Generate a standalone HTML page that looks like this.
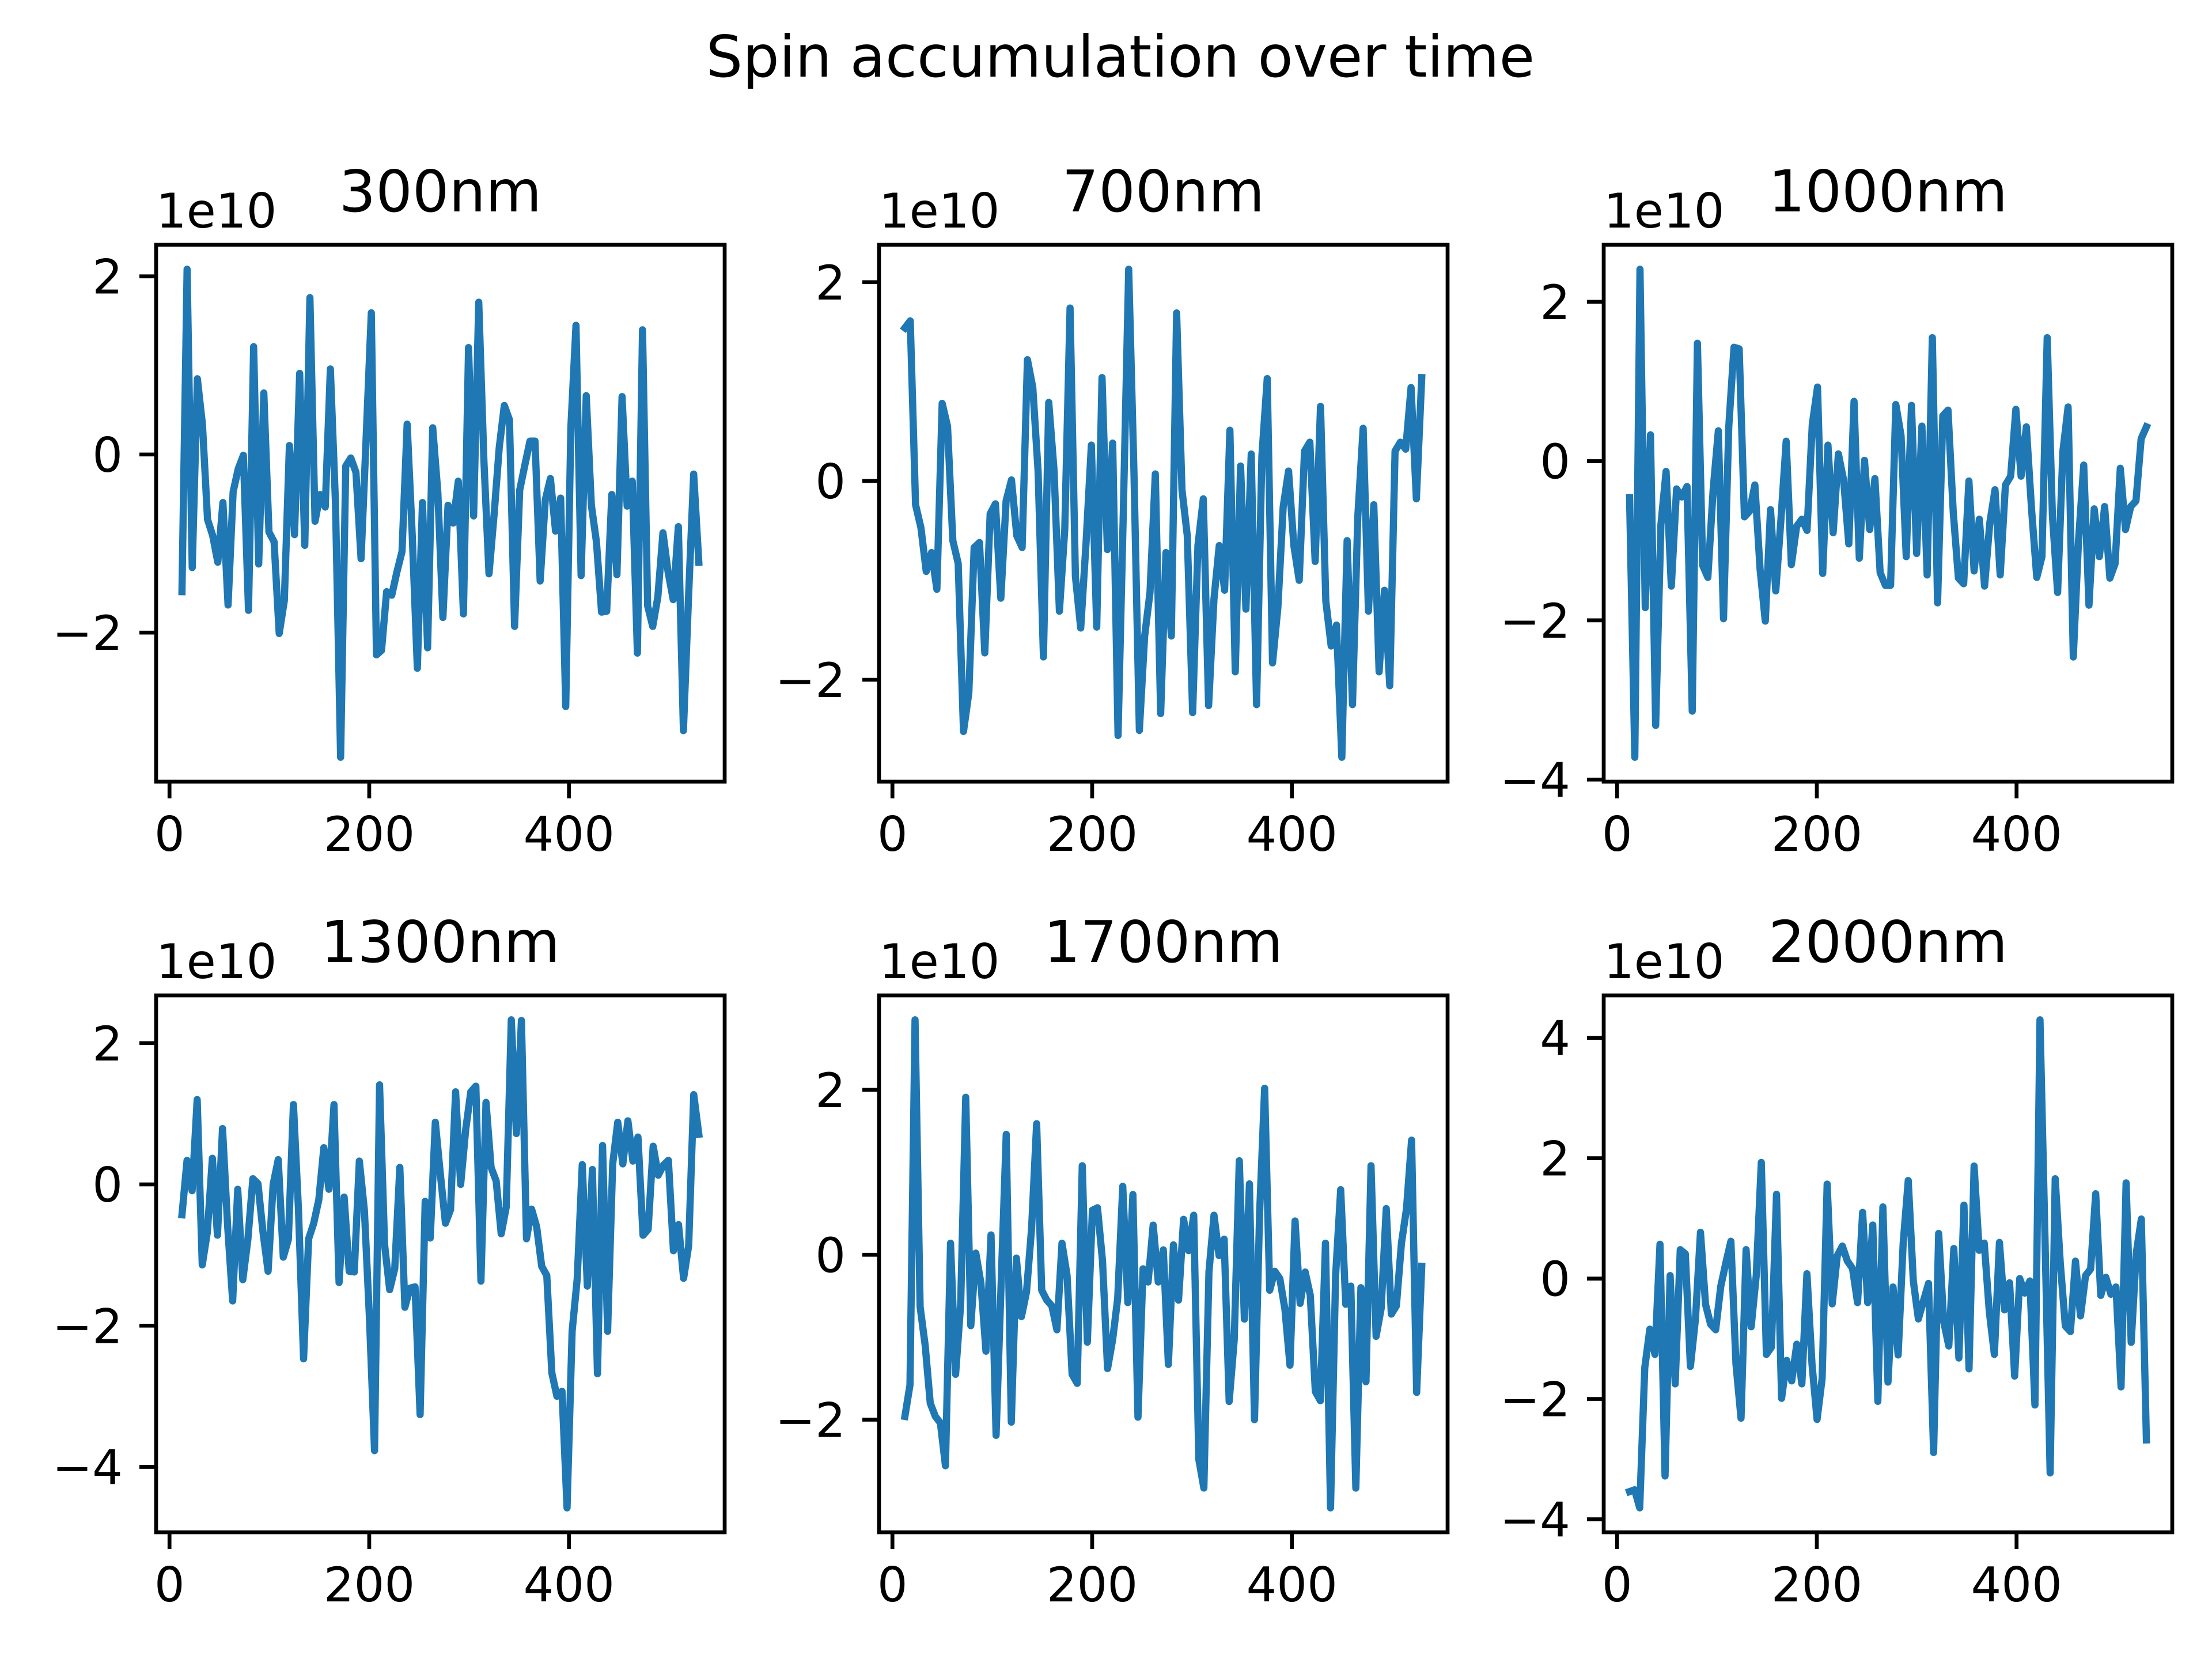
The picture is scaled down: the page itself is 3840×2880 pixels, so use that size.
<!DOCTYPE html>
<html><head><meta charset="utf-8"><title>Spin accumulation over time</title>
<style>html,body{margin:0;padding:0;background:#fff}svg{display:block}</style></head>
<body>
<svg id="fig" xmlns="http://www.w3.org/2000/svg" width="3840" height="2880" viewBox="0 0 3840 2880" font-family="DejaVu Sans, Liberation Sans, sans-serif">
<rect width="3840" height="2880" fill="#fff"/>
<text x="1945" y="133" font-size="100" text-anchor="middle">Spin accumulation over time</text>
</svg>
<script>
const panelTitles = ["300nm","700nm","1000nm","1300nm","1700nm","2000nm"];
const xTickValues = [0,200,400];
const xStart = 12.5, xEnd = 530;
const s300 = [-1.54,2.08,-1.27,0.85,0.34,-0.73,-0.91,-1.21,-0.54,-1.69,-0.42,-0.16,-0.01,-1.75,1.21,-1.23,0.69,-0.87,-0.98,-2.01,-1.64,0.10,-0.90,0.91,-1.02,1.76,-0.75,-0.45,-0.59,0.96,-0.55,-3.40,-0.13,-0.04,-0.20,-1.17,0.2,1.59,-2.25,-2.20,-1.54,-1.58,-1.32,-1.09,0.34,-0.9,-2.40,-0.54,-2.17,0.30,-0.43,-1.83,-0.57,-0.77,-0.30,-1.79,1.20,-0.69,1.71,-0.06,-1.34,-0.67,0.08,0.55,0.39,-1.93,-0.40,-0.12,0.15,0.15,-1.42,-0.51,-0.27,-0.86,-0.49,-2.83,0.30,1.45,-1.36,0.66,-0.57,-0.98,-1.77,-1.76,-0.45,-1.35,0.65,-0.58,-0.30,-2.23,1.40,-1.70,-1.93,-1.60,-0.88,-1.32,-1.63,-0.81,-3.10,-1.6,-0.22,-1.21];
const s700 = [1.54,1.61,-0.24,-0.47,-0.91,-0.72,-1.09,0.78,0.55,-0.60,-0.83,-2.52,-2.13,-0.67,-0.62,-1.73,-0.33,-0.23,-1.18,-0.20,0.01,-0.55,-0.67,1.22,0.94,0.10,-1.77,0.79,0.10,-1.31,-0.49,1.74,-0.96,-1.48,-0.62,0.36,-1.47,1.04,-0.69,0.38,-2.56,-0.3,2.13,0.07,-2.51,-1.56,-1.12,0.07,-2.34,-0.72,-1.56,1.69,-0.09,-0.55,-2.33,-0.65,-0.18,-2.26,-1.19,-0.65,-1.10,0.51,-1.92,0.15,-1.29,0.27,-2.25,0.25,1.03,-1.83,-1.27,-0.26,0.10,-0.65,-1.00,0.30,0.39,-0.81,0.75,-1.21,-1.66,-1.45,-2.78,-0.60,-2.25,-0.36,0.53,-1.31,-0.24,-1.92,-1.10,-2.06,0.30,0.39,0.32,0.94,-0.18,1.04];
const s1000 = [-0.46,-3.72,2.41,-1.84,0.33,-3.32,-0.80,-0.13,-1.57,-0.35,-0.45,-0.32,-3.14,1.48,-1.31,-1.46,-0.37,0.38,-1.98,0.43,1.43,1.41,-0.70,-0.63,-0.30,-1.36,-2.01,-0.61,-1.63,-0.73,0.25,-1.30,-0.82,-0.73,-0.87,0.46,0.93,-1.41,0.20,-0.90,0.09,-0.24,-1.04,0.75,-1.22,0.01,-0.86,-0.22,-1.40,-1.56,-1.56,0.71,0.32,-1.20,0.70,-1.16,0.44,-1.43,1.55,-1.78,0.57,0.64,-0.64,-1.47,-1.54,-0.25,-1.38,-0.73,-1.57,-0.78,-0.36,-1.43,-0.30,-0.19,0.65,-0.19,0.43,-0.60,-1.46,-1.20,1.55,-0.69,-1.65,0.12,0.68,-2.46,-1.0,-0.05,-1.81,-0.60,-1.20,-0.57,-1.47,-1.29,-0.09,-0.86,-0.57,-0.50,0.28,0.43];
const s1300 = [-0.43,0.34,-0.09,1.20,-1.14,-0.68,0.37,-0.72,0.79,-0.58,-1.65,-0.07,-1.35,-0.78,0.08,0.01,-0.68,-1.23,0.00,0.35,-1.03,-0.78,1.13,-0.37,-2.47,-0.77,-0.55,-0.22,0.52,-0.07,1.13,-1.39,-0.18,-1.23,-1.24,0.33,-0.37,-1.90,-3.77,1.41,-0.86,-1.49,-1.19,0.24,-1.74,-1.47,-1.45,-3.26,-0.24,-0.76,0.88,0.14,-0.55,-0.36,1.31,0.00,0.78,1.31,1.39,-1.37,1.16,0.24,0.05,-0.70,-0.32,2.33,0.72,2.32,-0.77,-0.35,-0.60,-1.16,-1.29,-2.67,-3.00,-2.93,-4.58,-2.08,-1.34,0.28,-1.44,0.21,-2.68,0.55,-2.08,0.29,0.88,0.29,0.90,0.33,0.67,-0.72,-0.64,0.54,0.13,0.27,0.34,-0.94,-0.57,-1.33,-0.87,1.27,0.71];
const s1700 = [-1.96,-1.58,2.85,-0.63,-1.10,-1.80,-1.96,-2.04,-2.56,0.14,-1.45,-0.60,1.91,-0.86,0.02,-0.34,-1.17,0.24,-2.19,-0.34,1.46,-2.03,-0.04,-0.75,-0.45,0.32,1.59,-0.43,-0.55,-0.62,-0.91,0.14,-0.25,-1.45,-1.56,1.08,-1.06,0.54,0.57,-0.07,-1.38,-1.03,-0.53,0.83,-0.58,0.73,-1.97,-0.17,-0.33,0.36,-0.33,0.06,-1.33,0.12,-0.55,0.43,0.05,0.48,-2.48,-2.83,-0.21,0.48,-0.01,0.19,-1.78,-1.03,1.14,-0.78,0.86,-2.00,0.49,2.02,-0.43,-0.20,-0.29,-0.66,-1.34,0.41,-0.59,-0.21,-0.49,-1.66,-1.77,0.14,-3.07,-0.25,0.79,-0.60,-0.38,-2.83,-0.40,-1.54,1.08,-0.99,-0.65,0.56,-0.72,-0.62,0.14,0.56,1.39,-1.67,-0.14];
const s2000 = [-3.54,-3.51,-3.81,-1.48,-0.84,-1.26,0.57,-3.28,0.05,-1.75,0.48,0.41,-1.46,-0.67,0.77,-0.43,-0.76,-0.85,-0.13,0.26,0.62,-1.42,-2.32,0.48,-0.80,0.05,1.93,-1.26,-1.14,1.40,-1.99,-1.36,-1.70,-1.09,-1.75,0.08,-1.42,-2.34,-1.66,1.57,-0.42,0.38,0.54,0.29,0.17,-0.40,1.10,-0.40,0.89,-2.04,1.19,-1.72,-0.14,-1.27,0.59,1.63,-0.04,-0.67,-0.37,-0.08,-2.89,0.75,-0.72,-1.12,0.50,-1.32,1.22,-1.50,1.87,0.47,0.59,-0.55,-1.26,0.60,-0.52,-0.07,-1.62,0.00,-0.24,-0.04,-2.10,4.30,0.62,-3.23,1.66,0.26,-0.79,-0.88,0.29,-0.62,0.05,0.16,1.41,-0.28,0.02,-0.26,-0.14,-1.80,1.59,-1.06,0.42,0.99,-2.68];

const seriesList = [s300,s700,s1000,s1300,s1700,s2000];
const colLeft = [271,1526,2784], colW = 987;
const rowTop = [425,1728], rowH = 932;
const XMIN = -13.4, XMAX = 555.9;
const NS = "http://www.w3.org/2000/svg";
const fig = document.getElementById('fig');
function mk(tag, attrs, parent){ const e=document.createElementNS(NS,tag); for(const k in attrs) e.setAttribute(k,attrs[k]); (parent||fig).appendChild(e); return e; }
function fmt(v){ return v<0 ? "\u2212"+Math.abs(v) : String(v); }

seriesList.forEach((vals,i)=>{
  const L = colLeft[i%3], T = rowTop[Math.floor(i/3)], R=L+colW, B=T+rowH;
  const g = mk('g',{});
  
  
  let mn=Math.min(...vals), mx=Math.max(...vals); const m=(mx-mn)*0.05; const ymin=mn-m, ymax=mx+m;
  const xs = v => L + (v-XMIN)/(XMAX-XMIN)*colW;
  const ys = v => B - (v-ymin)/(ymax-ymin)*rowH;
  const n = vals.length;
  const pts = vals.map((v,k)=>{ const xv = xStart + (xEnd-xStart)*k/(n-1); return xs(xv).toFixed(1)+","+ys(v).toFixed(1); }).join(" ");
  const line = mk('polyline',{points:pts,fill:'none',stroke:'#1f77b4','stroke-width':12.5,'stroke-linejoin':'round','stroke-linecap':'square'},g);
  
  
  const fr = mk('rect',{x:L,y:T,width:colW,height:rowH,fill:'none',stroke:'#000','stroke-width':6.7},g);
  
  
  xTickValues.forEach(t=>{
    const x=xs(t);
    const tk = mk('line',{x1:x,x2:x,y1:B,y2:B+29,stroke:'#000','stroke-width':6.7},g);
    
    
    const tl = mk('text',{x:x,y:B+120,'font-size':83,'text-anchor':'middle'},g);
    tl.textContent = fmt(t);
    
    
  });
  for(let t=Math.ceil(ymin/2)*2; t<=ymax; t+=2){
    const y=ys(t);
    const tk = mk('line',{x1:L-29,x2:L,y1:y,y2:y,stroke:'#000','stroke-width':6.7},g);
    
    
    const tl = mk('text',{x:L-58,y:y+30,'font-size':83,'text-anchor':'end'},g);
    tl.textContent = fmt(t);
    
    
  }
  const off = mk('text',{x:L,y:T-30,'font-size':83},g);
  off.textContent = "1e10";
  
  
  const tt = mk('text',{x:L+colW/2,y:T-58,'font-size':100,'text-anchor':'middle'},g);
  tt.textContent = panelTitles[i];
  
  
});
</script>
</body></html>
